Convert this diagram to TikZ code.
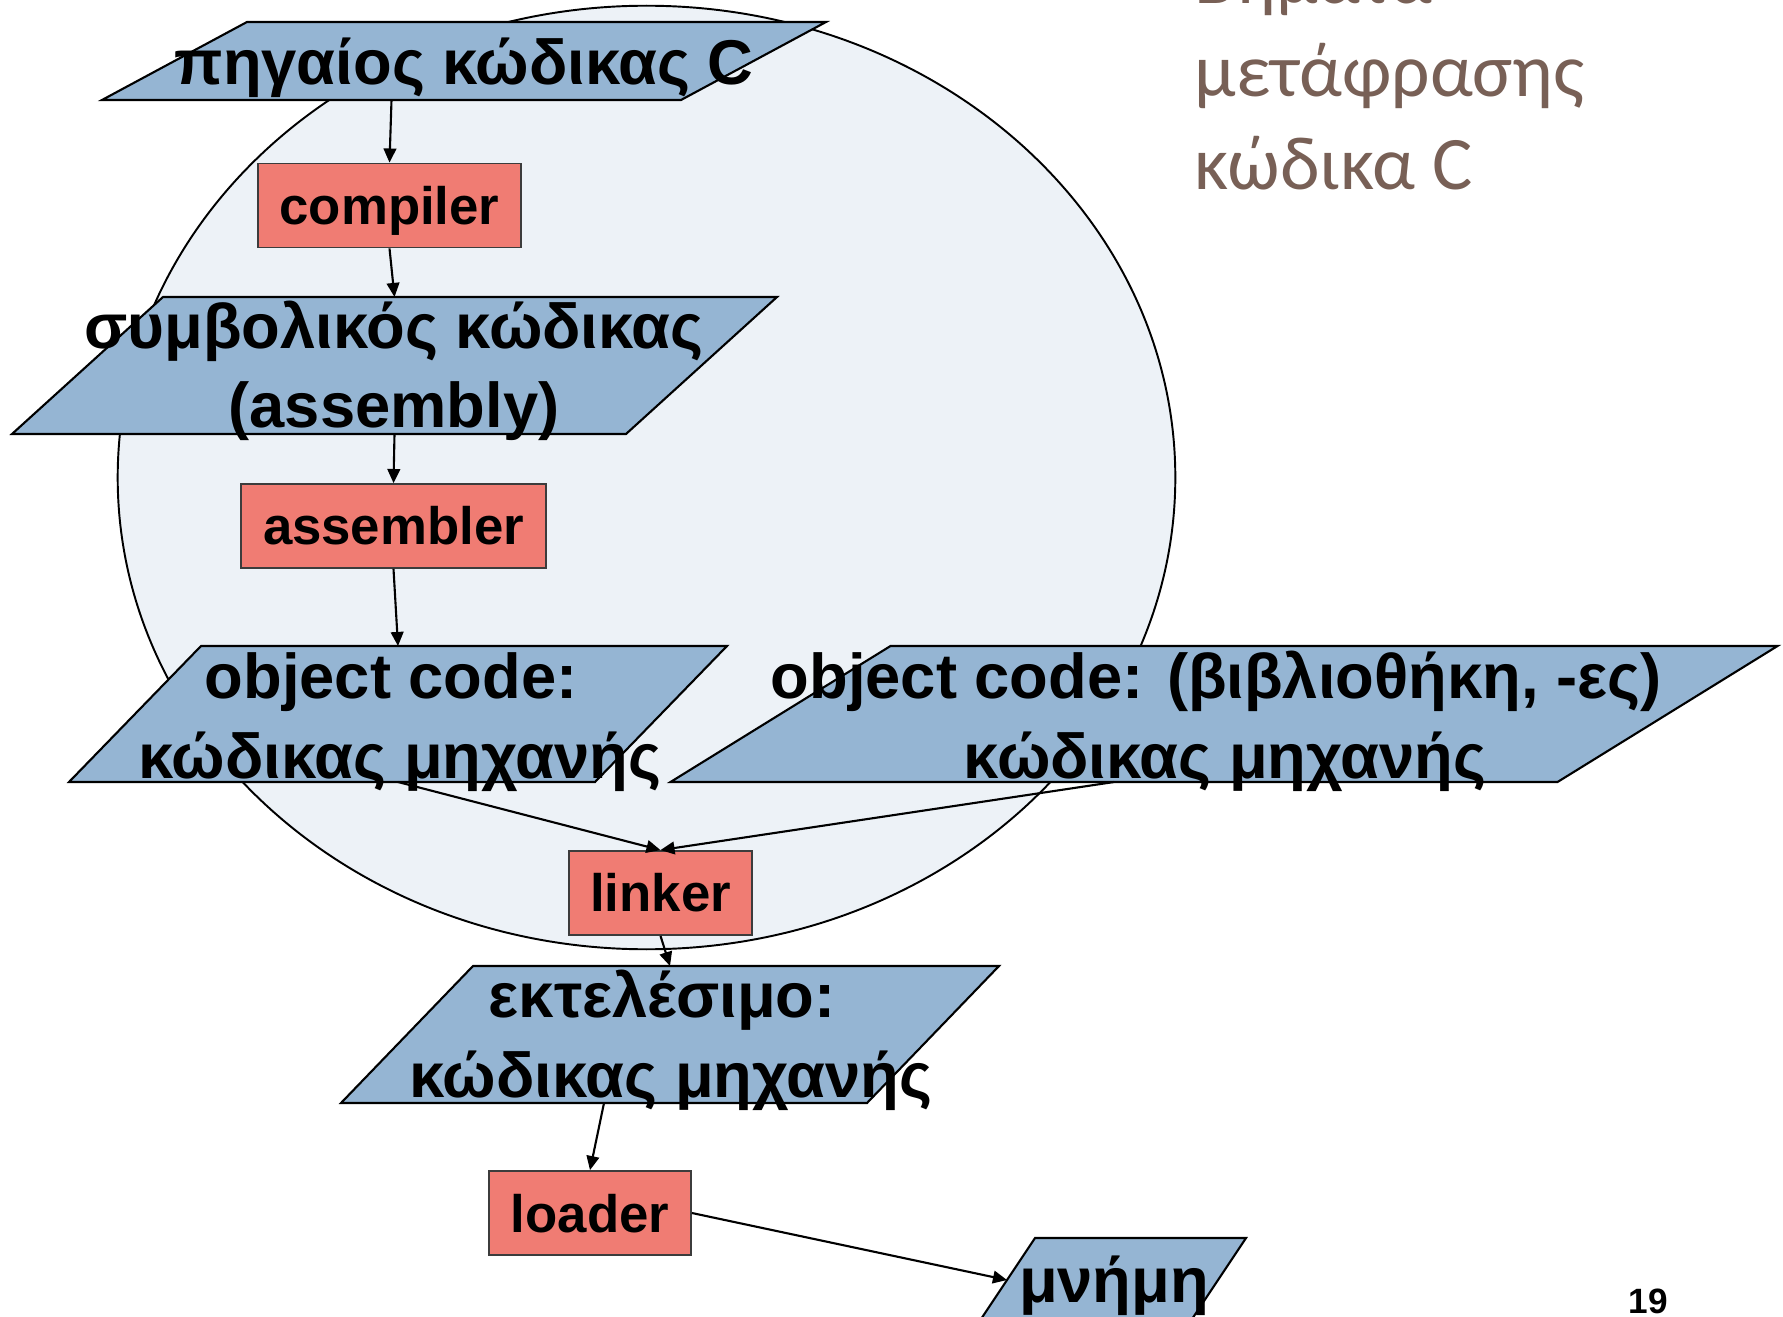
\documentclass[tikz,border=0pt]{standalone}
\usepackage{fontspec}
\setmainfont{Liberation Sans}
\newfontfamily\slidefont{Carlito}
\usepackage{tikz}
\usetikzlibrary{arrows.meta}
\definecolor{ovalfill}{RGB}{237,242,247}
\definecolor{datafill}{RGB}{149,181,211}
\definecolor{progfill}{RGB}{240,124,115}
\definecolor{progline}{RGB}{60,60,60}
\definecolor{titlecol}{RGB}{120,96,86}
\tikzset{
    prog/.style={draw=progline, line width=0.5pt, fill=progfill, inner sep=0pt, minimum height=0.84cm,
        font=\fontsize{15}{18}\selectfont\bfseries, text height=11.5pt, text depth=0.7pt},
    data/.style={draw=black, line width=0.6pt, fill=datafill},
    datatext/.style={font=\fontsize{18}{22.5}\selectfont\bfseries, align=center, inner sep=0pt, anchor=base},
    flow/.style={-{Triangle[length=4pt,width=3.6pt]}, line width=0.6pt}
}

\begin{document}
\begin{tikzpicture}[x=0.01cm,y=-0.01cm]
\useasboundingbox (0,0) rectangle (1783,1316);
\draw[fill=ovalfill, line width=0.55pt] (646.5,477.5) ellipse [x radius=5.285cm, y radius=4.715cm];
\foreach \n/\x/\y/\w/\h/\s in {src/464/61/579/78/145, asm/394.5/365.5/614/137/151, obj/398/714/526/136/132, lib/1224/714/887/136/220, exe/670/1034.5/526/137/132, mem/1112.5/1280/211/84/56}{
    \coordinate (\n) at (\x,\y);
    \coordinate (\n-n) at (\x,\y-\h/2);
    \coordinate (\n-s) at (\x,\y+\h/2);
    \coordinate (\n-bs) at (\x-\s/2,\y+\h/2);
    \coordinate (\n-ls) at (\x-\w/2,\y);
    \draw[data] (\x-\w/2-\s/2,\y+\h/2) -- ++(\w,0) -- ++(\s,-\h) -- ++(-\w,0) -- cycle;
}
\foreach \n/\x/\y/\w in {compiler/389.5/205.5/2.63, assembler/393.5/526/3.05, linker/660.5/893/1.83, loader/590/1213/2.02}{
    \node[prog, minimum width=\w cm] (\n) at (\x,\y) {\n};
}
\draw[flow] (src-bs) -- (compiler.north);
\draw[flow] (compiler.south) -- (asm-n);
\draw[flow] (asm-s) -- (assembler.north);
\draw[flow] (assembler.south) -- (obj-n);
\draw[flow] (obj-s) -- (linker.north);
\draw[flow] (lib-bs) -- (linker.north);
\draw[flow] (linker.south) -- (exe-n);
\draw[flow] (exe-bs) -- (loader.north);
\draw[flow] (loader.east) -- (mem-ls);
\node[datatext] (src-t) at (464,85) {πηγαίος κώδικας C};
\node[datatext] (asm-t) at (394,428) {συμβολικός κώδικας\\(assembly)};
\node[datatext] (obj-t) at (400,778) {object code:\hspace*{.28em}\\κώδικας μηχανής};
\node[datatext] (lib-t) at (1225,778) {object code: (βιβλιοθήκη, -ες)\hspace*{.28em}\\κώδικας μηχανής};
\node[datatext] (exe-t) at (671,1097) {εκτελέσιμο:\hspace*{.28em}\\κώδικας μηχανής};
\node[datatext] (mem-t) at (1114,1302) {μνήμη};
\node[font=\slidefont\fontsize{21.5}{26.5}\selectfont, text=titlecol, align=left, anchor=base west, inner sep=0pt] (title) at (1194,190) {Βήματα\\μετάφρασης\\κώδικα C};
\node[font=\fontsize{10}{12}\selectfont\bfseries, anchor=base west, inner sep=0pt] (page) at (1628,1313) {19};
\end{tikzpicture}
\end{document}
